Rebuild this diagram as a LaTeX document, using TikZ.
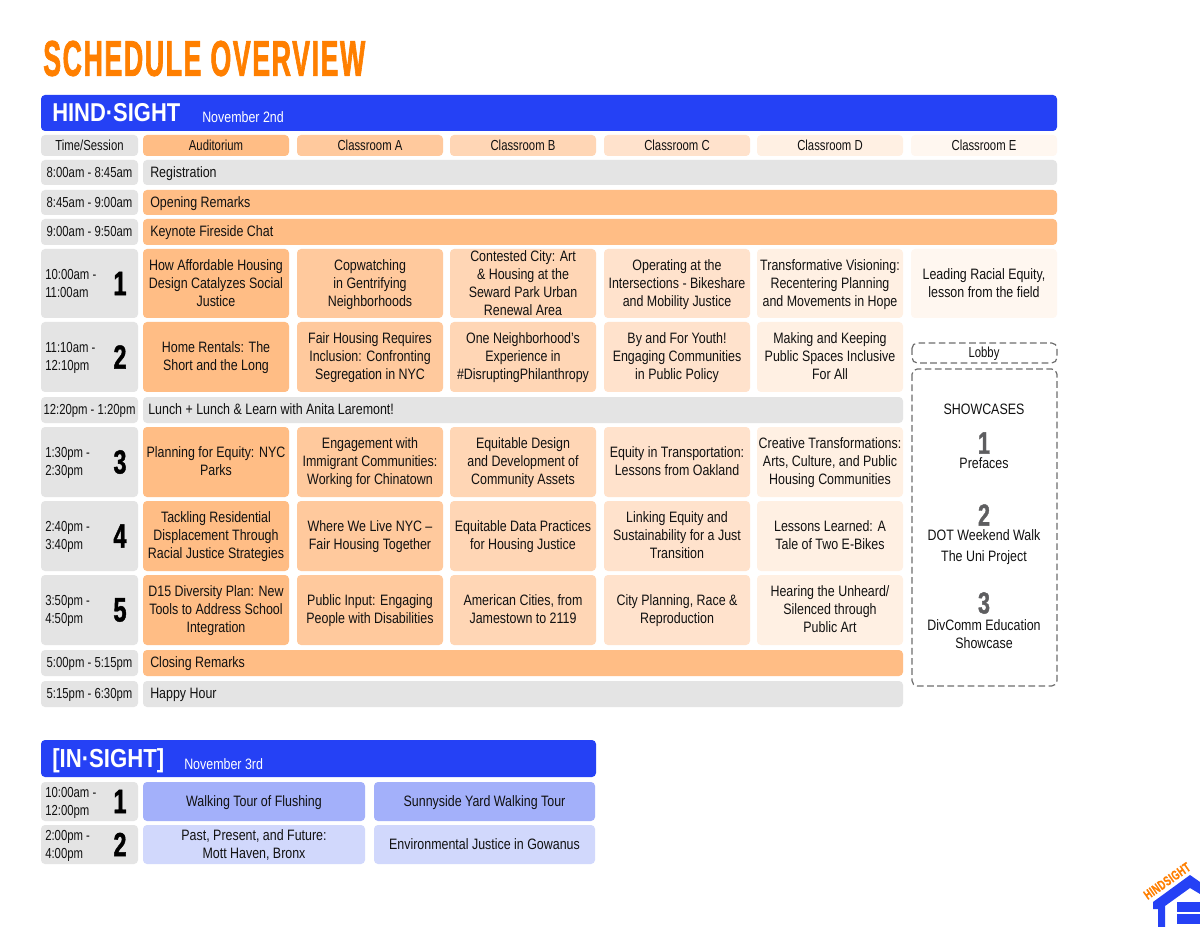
\documentclass[tikz,border=0pt]{standalone}
\usepackage{fontspec}
\setmainfont{Liberation Sans}[FakeStretch=0.825]
\newfontfamily\narrowfont{Liberation Sans}[FakeStretch=0.78]
\newfontfamily\titlefont{Liberation Sans Bold}[FakeStretch=0.66,FakeBold=1.5,LetterSpace=4]
\newfontfamily\numfont{Liberation Sans Bold}[FakeStretch=0.7,FakeBold=1.2]
\newfontfamily\logofont{Liberation Sans Bold}[FakeStretch=0.8,FakeBold=0.8,LetterSpace=3]
\newfontfamily\bandfont{Liberation Sans Bold}[FakeStretch=0.85]
\definecolor{ora}{HTML}{FF7F00}
\definecolor{blu}{HTML}{2541F5}
\definecolor{gry}{HTML}{E4E4E4}
\definecolor{c0}{HTML}{FFBD85}
\definecolor{c1}{HTML}{FFC99D}
\definecolor{c2}{HTML}{FFD6B5}
\definecolor{c3}{HTML}{FFE2CC}
\definecolor{c4}{HTML}{FFF0E3}
\definecolor{c5}{HTML}{FFF7F0}
\definecolor{p1}{HTML}{A3B0FA}
\definecolor{p2}{HTML}{D1D8FC}
\definecolor{ink}{HTML}{111111}
\definecolor{dash}{HTML}{6E6E6E}
\definecolor{numgrey}{HTML}{5E5E60}
\tikzset{
 x=0.75pt,y=-0.75pt,
 cellbox/.style={rounded corners=3pt,inner sep=0pt,outer sep=0pt},
 celltext/.style={inner sep=0pt,outer sep=0pt,font=\fontsize{11.3}{13.5}\selectfont,text=ink,align=center},
 numlab/.style={inner sep=0pt,text=black},
 plainlab/.style={inner sep=0pt,text=ink,font=\fontsize{11.3}{13.5}\selectfont,align=left,anchor=west},
 timelab/.style={plainlab,font=\narrowfont\fontsize{10.9}{13.5}\selectfont},
 dashbox/.style={draw=dash,line width=0.9pt,dash pattern=on 5pt off 2.6pt,rounded corners=4pt},
}
% name x0 y0 x1 y1 colour text
\newcommand{\cell}[7]{%
 \pgfmathsetmacro{\cw}{(#4-#2)*0.75}\pgfmathsetmacro{\ch}{(#5-#3)*0.75}%
 \pgfmathsetmacro{\cx}{(#2+#4)/2}\pgfmathsetmacro{\cy}{(#3+#5)/2}%
 \node[cellbox,fill=#6,minimum width=\cw pt,minimum height=\ch pt] (#1) at (\cx,\cy) {};
 \node[celltext] (#1t) at (\cx,\cy+1.3) {\strut #7\strut};}
% narrow centred cell for header and time labels
\newcommand{\ncell}[7]{%
 \pgfmathsetmacro{\cw}{(#4-#2)*0.75}\pgfmathsetmacro{\ch}{(#5-#3)*0.75}%
 \pgfmathsetmacro{\cx}{(#2+#4)/2}\pgfmathsetmacro{\cy}{(#3+#5)/2}%
 \node[cellbox,fill=#6,minimum width=\cw pt,minimum height=\ch pt] (#1) at (\cx,\cy) {};
 \node[celltext,font=\narrowfont\fontsize{10.9}{13.5}\selectfont] (#1t) at (\cx,\cy+1.3) {\strut #7\strut};}
% left-aligned band text
\newcommand{\lcell}[7]{%
 \pgfmathsetmacro{\cw}{(#4-#2)*0.75}\pgfmathsetmacro{\ch}{(#5-#3)*0.75}%
 \pgfmathsetmacro{\cx}{(#2+#4)/2}\pgfmathsetmacro{\cy}{(#3+#5)/2}%
 \node[cellbox,fill=#6,minimum width=\cw pt,minimum height=\ch pt] (#1) at (\cx,\cy) {};
 \node[plainlab] (#1t) at (#2+7,\cy+1.3) {\strut #7\strut};}
% session label: name y0 y1 time number
\newcommand{\slot}[5]{%
 \pgfmathsetmacro{\cw}{97*0.75}\pgfmathsetmacro{\ch}{(#3-#2)*0.75}\pgfmathsetmacro{\cy}{(#2+#3)/2}%
 \node[cellbox,fill=gry,minimum width=\cw pt,minimum height=\ch pt] (#1) at (89.5,\cy) {};
 \node[timelab] (#1t) at (45,\cy+1.3) {\strut #4\strut};
 \node[numlab] (#1n) at (120,\cy) {\resizebox{!}{17.5pt}{\numfont #5}};}
\begin{document}
\begin{tikzpicture}
\useasboundingbox (0,0) rectangle (1200,927);
\fill[white] (0,0) rectangle (1200,927);
\node[inner sep=0pt,anchor=west,text=ora] (title) at (43,58.5) {\resizebox{241.5pt}{26.3pt}{\titlefont SCHEDULE OVERVIEW}};
% Hind-sight band
\cell{band1}{41}{95}{1057}{131}{blu}{}
\node[inner sep=0pt,anchor=west,text=white] (band1l) at (52,112.5) {\resizebox{96pt}{!}{\bandfont HIND·SIGHT}};
\node[inner sep=0pt,anchor=west,text=white,font=\fontsize{11.3}{13}\selectfont] (band1d) at (202,117) {November 2nd};
% Header row
\ncell{h0}{41}{135}{138}{156}{gry}{Time/Session}
\ncell{h1}{143}{135}{289}{156}{c0}{Auditorium}
\ncell{h2}{297}{135}{443}{156}{c1}{Classroom A}
\ncell{h3}{450}{135}{596}{156}{c2}{Classroom B}
\ncell{h4}{604}{135}{750}{156}{c3}{Classroom C}
\ncell{h5}{757}{135}{903}{156}{c4}{Classroom D}
\ncell{h6}{911}{135}{1057}{156}{c5}{Classroom E}
% Plenary rows
\ncell{t1}{41}{160}{138}{185}{gry}{8:00am - 8:45am}
\lcell{r1}{143}{160}{1057}{185}{gry}{Registration}
\ncell{t2}{41}{190}{138}{215}{gry}{8:45am - 9:00am}
\lcell{r2}{143}{190}{1057}{215}{c0}{Opening Remarks}
\ncell{t3}{41}{219}{138}{245}{gry}{9:00am - 9:50am}
\lcell{r3}{143}{219}{1057}{245}{c0}{Keynote Fireside Chat}
% Session 1
\slot{s1}{249}{318}{10:00am -\\11:00am}{1}
\cell{a1}{143}{249}{289}{318}{c0}{How Affordable Housing\\Design Catalyzes Social\\Justice}
\cell{b1}{297}{249}{443}{318}{c1}{Copwatching\\in Gentrifying\\Neighborhoods}
\cell{c1x}{450}{249}{596}{318}{c2}{Contested City: Art\\\& Housing at the\\Seward Park Urban\\Renewal Area}
\cell{d1}{604}{249}{750}{318}{c3}{Operating at the\\Intersections - Bikeshare\\and Mobility Justice}
\cell{e1}{757}{249}{903}{318}{c4}{Transformative Visioning:\\Recentering Planning\\and Movements in Hope}
\cell{f1}{911}{249}{1057}{318}{c5}{Leading Racial Equity,\\lesson from the field}
% Session 2
\slot{s2}{322}{392}{11:10am -\\12:10pm}{2}
\cell{a2}{143}{322}{289}{392}{c0}{Home Rentals: The\\Short and the Long}
\cell{b2}{297}{322}{443}{392}{c1}{Fair Housing Requires\\Inclusion: Confronting\\Segregation in NYC}
\cell{c2x}{450}{322}{596}{392}{c2}{One Neighborhood's\\Experience in\\\#DisruptingPhilanthropy}
\cell{d2}{604}{322}{750}{392}{c3}{By and For Youth!\\Engaging Communities\\in Public Policy}
\cell{e2}{757}{322}{903}{392}{c4}{Making and Keeping\\Public Spaces Inclusive\\For All}
% Lunch
\ncell{t4}{41}{397}{138}{423}{gry}{12:20pm - 1:20pm}
\lcell{r4}{143}{397}{903}{423}{gry}{\hspace{-1.5pt}Lunch + Lunch \& Learn with Anita Laremont!}
% Session 3
\slot{s3}{427}{497}{1:30pm -\\2:30pm}{3}
\cell{a3}{143}{427}{289}{497}{c0}{Planning for Equity: NYC\\Parks}
\cell{b3}{297}{427}{443}{497}{c1}{Engagement with\\Immigrant Communities:\\Working for Chinatown}
\cell{c3x}{450}{427}{596}{497}{c2}{Equitable Design\\and Development of\\Community Assets}
\cell{d3}{604}{427}{750}{497}{c3}{Equity in Transportation:\\Lessons from Oakland}
\cell{e3}{757}{427}{903}{497}{c4}{Creative Transformations:\\Arts, Culture, and Public\\Housing Communities}
% Session 4
\slot{s4}{501}{571}{2:40pm -\\3:40pm}{4}
\cell{a4}{143}{501}{289}{571}{c0}{Tackling Residential\\Displacement Through\\Racial Justice Strategies}
\cell{b4}{297}{501}{443}{571}{c1}{Where We Live NYC --\\Fair Housing Together}
\cell{c4x}{450}{501}{596}{571}{c2}{Equitable Data Practices\\for Housing Justice}
\cell{d4}{604}{501}{750}{571}{c3}{Linking Equity and\\Sustainability for a Just\\Transition}
\cell{e4}{757}{501}{903}{571}{c4}{Lessons Learned: A\\Tale of Two E-Bikes}
% Session 5
\slot{s5}{575}{645}{3:50pm -\\4:50pm}{5}
\cell{a5}{143}{575}{289}{645}{c0}{D15 Diversity Plan: New\\Tools to Address School\\Integration}
\cell{b5}{297}{575}{443}{645}{c1}{Public Input: Engaging\\People with Disabilities}
\cell{c5x}{450}{575}{596}{645}{c2}{American Cities, from\\Jamestown to 2119}
\cell{d5}{604}{575}{750}{645}{c3}{City Planning, Race \&\\Reproduction}
\cell{e5}{757}{575}{903}{645}{c4}{Hearing the Unheard/\\Silenced through\\Public Art}
% Closing
\ncell{t5}{41}{650}{138}{676}{gry}{5:00pm - 5:15pm}
\lcell{r5}{143}{650}{903}{676}{c0}{Closing Remarks}
\ncell{t6}{41}{681}{138}{707}{gry}{5:15pm - 6:30pm}
\lcell{r6}{143}{681}{903}{707}{gry}{Happy Hour}
% Lobby and showcases
\draw[dashbox] (912,343) rectangle (1057,363);
\node[timelab,anchor=center] (lobby) at (984,353.5) {\strut Lobby\strut};
\draw[dashbox] (912,369) rectangle (1057,686);
\node[plainlab,anchor=center] (show) at (984,409) {SHOWCASES};
\node[numlab,text=numgrey] (sn1) at (984,443) {\resizebox{!}{16pt}{\numfont 1}};
\node[plainlab,anchor=center] (sp1) at (984,463) {Prefaces};
\node[numlab,text=numgrey] (sn2) at (984,515) {\resizebox{!}{16pt}{\numfont 2}};
\node[plainlab,anchor=center,align=center,font=\fontsize{11.3}{15.75}\selectfont] (sp2) at (984,547) {\strut DOT Weekend Walk\\The Uni Project\strut};
\node[numlab,text=numgrey] (sn3) at (984,603) {\resizebox{!}{16pt}{\numfont 3}};
\node[plainlab,anchor=center,align=center] (sp3) at (984,635.5) {\strut DivComm Education\\Showcase\strut};
% In-sight band
\cell{band2}{41}{740}{596}{777}{blu}{}
\node[inner sep=0pt,anchor=west,text=white] (band2l) at (52,760.5) {\resizebox{84pt}{!}{\bandfont [IN·SIGHT]}};
\node[inner sep=0pt,anchor=west,text=white,font=\fontsize{11.3}{13}\selectfont] (band2d) at (184,764) {November 3rd};
\slot{i1}{782}{821}{10:00am -\\12:00pm}{1}
\cell{w1}{143}{782}{365}{821}{p1}{Walking Tour of Flushing}
\cell{w2}{374}{782}{595}{821}{p1}{Sunnyside Yard Walking Tour}
\slot{i2}{825}{864}{2:00pm -\\4:00pm}{2}
\cell{w3}{143}{825}{365}{864}{p2}{Past, Present, and Future:\\Mott Haven, Bronx}
\cell{w4}{374}{825}{595}{864}{p2}{Environmental Justice in Gowanus}
% Logo
\begin{scope}
\clip (0,0) rectangle (1200,927);
\fill[blu] (1153,902) -- (1190,875) -- (1210,889) -- (1210,900) -- (1190,888) -- (1165,906) -- (1165,927) -- (1158,927) -- (1158,909) -- (1153,909) -- cycle;
\fill[blu] (1177,902) rectangle (1200,912);
\fill[blu] (1177,914) rectangle (1200,924);
\end{scope}
\node[inner sep=0pt,rotate=35,text=ora] (logo) at (1167,881) {\resizebox{40pt}{7pt}{\logofont HINDSIGHT}};
\end{tikzpicture}
\end{document}
